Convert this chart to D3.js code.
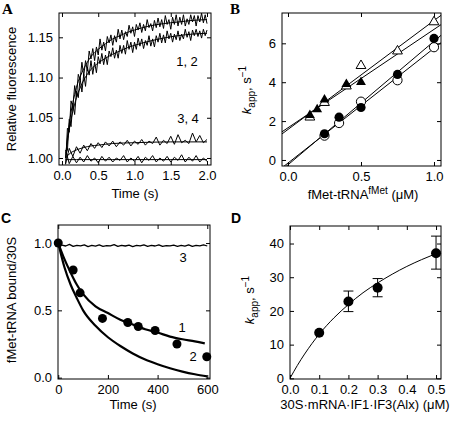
<!DOCTYPE html>
<html><head><meta charset="utf-8">
<script src="https://cdn.jsdelivr.net/npm/d3@7"></script>
<style>
body{margin:0;background:#fff;}
svg{display:block;font-family:"Liberation Sans",Arial,Helvetica,sans-serif;}
text{fill:#000;}
</style></head>
<body>
<svg id="chart" width="454" height="422"></svg>
<script>
// ---------- Panel A data ----------
const timesA = [0.05,0.075,0.1,0.125,0.15,0.175,0.2,0.225,0.25,0.275,0.3,0.325,0.35,0.375,0.4,0.425,0.45,0.475,0.5,0.525,0.55,0.575,0.6,0.625,0.65,0.675,0.7,0.725,0.75,0.775,0.8,0.825,0.85,0.875,0.9,0.925,0.95,0.975,1.0,1.025,1.05,1.075,1.1,1.125,1.15,1.175,1.2,1.225,1.25,1.275,1.3,1.325,1.35,1.375,1.4,1.425,1.45,1.475,1.5,1.525,1.55,1.575,1.6,1.625,1.65,1.675,1.7,1.725,1.75,1.775,1.8,1.825,1.85,1.875,1.9,1.925,1.95,1.975,2.0];
const traceA1 = [0.992,1.037,1.032,1.071,1.063,1.090,1.076,1.104,1.097,1.119,1.102,1.121,1.108,1.133,1.123,1.136,1.121,1.138,1.128,1.148,1.134,1.144,1.133,1.151,1.143,1.153,1.140,1.152,1.144,1.160,1.148,1.159,1.147,1.157,1.151,1.165,1.155,1.163,1.151,1.166,1.159,1.168,1.156,1.166,1.158,1.172,1.162,1.167,1.158,1.171,1.162,1.174,1.163,1.172,1.161,1.177,1.166,1.172,1.160,1.175,1.166,1.178,1.164,1.175,1.166,1.178,1.164,1.173,1.166,1.178,1.169,1.177,1.164,1.177,1.169,1.180,1.168,1.178,1.167];
const traceA2 = [1.006,1.009,1.048,1.039,1.068,1.054,1.083,1.075,1.099,1.082,1.104,1.089,1.113,1.103,1.121,1.104,1.119,1.106,1.126,1.117,1.130,1.116,1.128,1.116,1.133,1.126,1.137,1.124,1.134,1.124,1.140,1.130,1.140,1.129,1.146,1.135,1.144,1.131,1.144,1.135,1.149,1.139,1.148,1.136,1.146,1.140,1.152,1.139,1.148,1.138,1.152,1.144,1.155,1.143,1.153,1.143,1.158,1.148,1.155,1.144,1.154,1.147,1.158,1.146,1.154,1.148,1.160,1.150,1.157,1.146,1.159,1.152,1.160,1.151,1.158,1.149,1.160,1.152,1.159];
const timesA34 = [0.05,0.1,0.15,0.2,0.25,0.3,0.35,0.4,0.45,0.5,0.55,0.6,0.65,0.7,0.75,0.8,0.85,0.9,0.95,1.0,1.05,1.1,1.15,1.2,1.25,1.3,1.35,1.4,1.45,1.5,1.55,1.6,1.65,1.7,1.75,1.8,1.85,1.9,1.95,2.0];
const traceA3 = [0.993,1.012,1.002,1.014,1.006,1.016,1.009,1.018,1.012,1.019,1.013,1.020,1.015,1.021,1.014,1.020,1.016,1.022,1.015,1.021,1.017,1.023,1.016,1.021,1.018,1.026,1.016,1.022,1.018,1.027,1.017,1.029,1.019,1.022,1.018,1.031,1.020,1.028,1.019,1.023];
const traceA4 = [1.010,0.993,1.002,0.994,1.001,0.995,1.003,0.996,1.000,0.994,1.002,0.996,1.001,0.995,1.000,0.997,1.003,0.995,1.000,0.996,1.002,0.994,1.001,0.997,1.003,0.995,1.000,0.996,1.002,0.995,1.001,0.997,1.004,0.995,1.001,0.996,1.003,0.995,1.000,0.996];
const fitTimesA = [0.05,0.075,0.1,0.125,0.15,0.175,0.2,0.25,0.3,0.35,0.4,0.5,0.6,0.7,0.8,0.9,1.0,1.2,1.4,1.6,1.8,2.0];
const fitA1 = [1.000,1.025,1.042,1.057,1.069,1.079,1.088,1.101,1.111,1.119,1.126,1.135,1.142,1.148,1.152,1.156,1.159,1.164,1.167,1.169,1.171,1.172];
const fitA2 = [1.000,1.020,1.035,1.048,1.058,1.067,1.075,1.087,1.097,1.104,1.110,1.118,1.124,1.129,1.133,1.137,1.140,1.145,1.149,1.152,1.154,1.155];
const fitTimesA34 = [0.05,0.1,0.2,0.3,0.4,0.5,0.7,1.0,1.5,2.0];
const fitA3 = [1.000,1.005,1.010,1.013,1.015,1.016,1.018,1.019,1.020,1.020];
const fitA4 = [0.998,0.998,0.998,0.998,0.998,0.998,0.998,0.998,0.998,0.998];
const ticksAx = [0,0.5,1,1.5,2];
const ticksAy = [1.00,1.05,1.10,1.15];

// ---------- Panel B data ----------
const openTriX = [0.15,0.25,0.4,0.5,0.75,1.0];
const openTriY = [2.2,2.95,3.8,4.85,5.6,7.1];
const fillTriX = [0.15,0.2,0.25,0.4,0.5];
const fillTriY = [2.3,2.6,3.1,3.9,4.0];
const fillCircX = [0.25,0.35,0.5,0.75,1.0];
const fillCircY = [1.35,2.2,2.7,4.4,6.25];
const openCircX = [0.25,0.35,0.5,0.75,1.0];
const openCircY = [1.25,1.9,3.0,4.1,5.8];
const fitBx = [-0.041,1.048];
const fitBopenTri = [1.34,7.44];
const fitBfillTri = [1.45,6.96];
const fitBfillCirc = [-0.51,6.41];
const fitBopenCirc = [-0.40,6.03];
const ticksBx = [0,0.5,1];
const ticksBy = [0,2,4,6];

// ---------- Panel C data ----------
const timesC = [0,25,50,75,100,150,200,250,300,350,400,450,500,550,590];
const traceC1 = [1.0,0.88,0.78,0.69,0.62,0.53,0.48,0.43,0.395,0.36,0.335,0.305,0.285,0.27,0.255];
const timesC2 = [0,25,50,75,100,150,200,250,300,350,400,450,500,550,600];
const traceC2 = [1.0,0.82,0.69,0.59,0.50,0.385,0.30,0.235,0.18,0.135,0.10,0.07,0.045,0.025,0.01];
const timesC3 = [0,15,30,45,60,75,90,105,120,135,150,165,180,195,210,225,240,255,270,285,300,315,330,345,360,375,390,405,420,435,450,465,480,495,510,525,540,555,570,585,600];
const traceC3 = [1.000,0.985,0.978,0.990,0.975,0.983,0.979,0.987,0.974,0.982,0.977,0.986,0.976,0.981,0.979,0.988,0.975,0.983,0.978,0.985,0.974,0.982,0.979,0.986,0.976,0.983,0.978,0.987,0.975,0.981,0.979,0.985,0.976,0.983,0.977,0.986,0.975,0.982,0.979,0.987,0.978];
const pointsCx = [0,60,88,178,280,322,390,478,598];
const pointsCy = [1.0,0.80,0.63,0.44,0.41,0.38,0.35,0.25,0.155];
const ticksCx = [0,200,400,600];
const ticksCy = [0,0.5,1.0];

// ---------- Panel D data ----------
const concD = [0.1,0.2,0.3,0.5];
const kappD = [13.5,22.8,26.9,37.1];
const errLoD = [13.5,19.8,24.2,32.4];
const errHiD = [13.5,25.9,29.6,42.2];
const fitDx = [0,0.025,0.05,0.1,0.15,0.2,0.25,0.3,0.35,0.4,0.45,0.5,0.515];
const fitDy = [0,3.8,7.2,13.1,17.9,21.9,25.4,28.3,30.9,33.2,35.2,37.0,37.5];
const ticksDx = [0,0.1,0.2,0.3,0.4,0.5];
const ticksDy = [0,10,20,30,40];

// ---------- drawing ----------
const svg = d3.select("#chart");
svg.append("rect").attr("width",454).attr("height",422).attr("fill","#fff");
const FS = 13;

function makePanel(p){
  const x = d3.scaleLinear().domain(p.xd).range([p.x0,p.x1]);
  const y = d3.scaleLinear().domain(p.yd).range([p.y1,p.y0]);
  const g = svg.append("g");
  const tk = 4;
  const ax = (axisFn, scale, ticks, fmt, transform, labels) => {
    const a = axisFn(scale).tickValues(ticks).tickSizeInner(-tk).tickSizeOuter(0).tickPadding(6)
      .tickFormat(labels ? fmt : () => "");
    const gg = g.append("g").attr("transform", transform).call(a);
    gg.select(".domain").remove();
    gg.selectAll("line").attr("stroke","#000").attr("stroke-width",1);
    gg.selectAll("text").attr("font-size",FS).attr("fill","#000").style("font-family","Liberation Sans, Arial, sans-serif");
    return gg;
  };
  ax(d3.axisBottom, x, p.xt, p.xf, `translate(0,${p.y1})`, true);
  ax(d3.axisTop, x, p.xt, p.xf, `translate(0,${p.y0})`, false);
  ax(d3.axisLeft, y, p.yt, p.yf, `translate(${p.x0},0)`, true);
  ax(d3.axisRight, y, p.yt, p.yf, `translate(${p.x1},0)`, false);
  g.append("rect").attr("x",p.x0).attr("y",p.y0).attr("width",p.x1-p.x0).attr("height",p.y1-p.y0)
    .attr("fill","none").attr("stroke","#000").attr("stroke-width",1);
  const clipId = "clip"+p.id;
  svg.append("clipPath").attr("id",clipId).append("rect")
    .attr("x",p.x0).attr("y",p.y0).attr("width",p.x1-p.x0).attr("height",p.y1-p.y0);
  const plot = svg.append("g").attr("clip-path",`url(#${clipId})`);
  return {x,y,g,plot};
}

function line(plot, xs, ys, x, y, w, curve){
  const pts = xs.map((v,i)=>[v,ys[i]]);
  plot.append("path").datum(pts)
    .attr("d", d3.line().x(d=>x(d[0])).y(d=>y(d[1])).curve(curve||d3.curveLinear))
    .attr("fill","none").attr("stroke","#000").attr("stroke-width",w).attr("stroke-linejoin","round");
}

function label(x,y,txt){
  return svg.append("text").attr("x",x).attr("y",y).attr("text-anchor","middle")
    .attr("font-size",FS).attr("fill","#000").text(txt);
}

function panelLetter(txt,x,y,serif){
  svg.append("text").attr("x",x).attr("y",y).text(txt).attr("fill","#000")
    .attr("font-weight","bold").attr("font-size",serif?15:14)
    .style("font-family", serif ? "Liberation Serif, Times New Roman, serif" : "Liberation Sans, Arial, sans-serif");
}

function kappLabel(cx,cy){
  const t = svg.append("text").attr("transform",`translate(${cx},${cy}) rotate(-90)`)
    .attr("text-anchor","middle").attr("font-size",FS).attr("fill","#000");
  t.append("tspan").text("k").attr("font-style","italic");
  t.append("tspan").text("app").attr("font-size",10).attr("dy",4);
  t.append("tspan").text(", s").attr("dy",-4);
  t.append("tspan").text("\u22121").attr("font-size",10).attr("dy",-5);
}

// Panel A
{
  const P = makePanel({id:"A",x0:59,x1:211,y0:13,y1:165,xd:[-0.041,2.055],yd:[0.9913,1.1802],
    xt:ticksAx,yt:ticksAy,xf:d3.format(".1f"),yf:d3.format(".2f")});
  line(P.plot,timesA,traceA1,P.x,P.y,1);
  line(P.plot,timesA,traceA2,P.x,P.y,1);
  line(P.plot,timesA34,traceA3,P.x,P.y,1);
  line(P.plot,timesA34,traceA4,P.x,P.y,1);
  line(P.plot,fitTimesA,fitA1,P.x,P.y,1,d3.curveMonotoneX);
  line(P.plot,fitTimesA,fitA2,P.x,P.y,1,d3.curveMonotoneX);
  line(P.plot,fitTimesA34,fitA3,P.x,P.y,1,d3.curveMonotoneX);
  line(P.plot,fitTimesA34,fitA4,P.x,P.y,1,d3.curveMonotoneX);
  label(187,66,"1, 2");
  label(188,123,"3, 4");
  label(135,198,"Time (s)");
  svg.append("text").attr("transform","translate(16,89) rotate(-90)").attr("text-anchor","middle")
    .attr("font-size",FS).attr("fill","#000").text("Relative fluorescence");
  panelLetter("A",2,14,true);
}

// Panel B
{
  const P = makePanel({id:"B",x0:282,x1:441,y0:13,y1:166,xd:[-0.041,1.048],yd:[-0.31,7.56],
    xt:ticksBx,yt:ticksBy,xf:d3.format(".1f"),yf:d3.format("d")});
  line(P.plot,fitBx,fitBopenTri,P.x,P.y,1);
  line(P.plot,fitBx,fitBfillTri,P.x,P.y,1);
  line(P.plot,fitBx,fitBfillCirc,P.x,P.y,1);
  line(P.plot,fitBx,fitBopenCirc,P.x,P.y,1);
  const tri = d3.symbol().type(d3.symbolTriangle).size(42);
  const pg = svg.append("g");
  openCircX.forEach((v,i)=>pg.append("circle").attr("cx",P.x(v)).attr("cy",P.y(openCircY[i])).attr("r",4.6).attr("fill","#fff").attr("stroke","#000").attr("stroke-width",1));
  fillCircX.forEach((v,i)=>pg.append("circle").attr("cx",P.x(v)).attr("cy",P.y(fillCircY[i])).attr("r",4.6).attr("fill","#000"));
  openTriX.forEach((v,i)=>pg.append("path").attr("d",tri).attr("transform",`translate(${P.x(v)},${P.y(openTriY[i])})`).attr("fill","#fff").attr("stroke","#000").attr("stroke-width",1));
  fillTriX.forEach((v,i)=>pg.append("path").attr("d",tri).attr("transform",`translate(${P.x(v)},${P.y(fillTriY[i])})`).attr("fill","#000"));
  const xl = svg.append("text").attr("x",363).attr("y",199).attr("text-anchor","middle").attr("font-size",FS).attr("fill","#000");
  xl.append("tspan").text("fMet-tRNA");
  xl.append("tspan").text("fMet").attr("font-size",10).attr("dy",-5);
  xl.append("tspan").text(" (\u03bcM)").attr("dy",5);
  kappLabel(251,90);
  panelLetter("B",230,14,true);
}

// Panel C
{
  const P = makePanel({id:"C",x0:58,x1:210,y0:225,y1:379,xd:[-1,611],yd:[-0.01,1.134],
    xt:ticksCx,yt:ticksCy,xf:d3.format("d"),yf:d3.format(".1f")});
  line(P.plot,timesC3,traceC3,P.x,P.y,1.3);
  line(P.plot,timesC,traceC1,P.x,P.y,2.2,d3.curveMonotoneX);
  line(P.plot,timesC2,traceC2,P.x,P.y,2.2,d3.curveMonotoneX);
  pointsCx.forEach((v,i)=>svg.append("circle").attr("cx",P.x(v)).attr("cy",P.y(pointsCy[i])).attr("r",4.5).attr("fill","#000"));
  label(183,262,"3");
  label(182,332,"1");
  label(193,361,"2");
  label(133,409,"Time (s)");
  svg.append("text").attr("transform","translate(16,300) rotate(-90)").attr("text-anchor","middle")
    .attr("font-size",FS).attr("fill","#000").text("fMet-tRNA bound/30S");
  panelLetter("C",1,223,false);
}

// Panel D
{
  const P = makePanel({id:"D",x0:290,x1:441,y0:226,y1:379,xd:[0,0.517],yd:[-0.2,45.2],
    xt:ticksDx,yt:ticksDy,xf:d3.format(".1f"),yf:d3.format("d")});
  line(P.plot,fitDx,fitDy,P.x,P.y,1,d3.curveMonotoneX);
  const eg = svg.append("g").attr("stroke","#000").attr("stroke-width",1);
  concD.forEach((v,i)=>{
    if (errHiD[i] > errLoD[i]) {
      eg.append("line").attr("x1",P.x(v)).attr("x2",P.x(v)).attr("y1",P.y(errLoD[i])).attr("y2",P.y(errHiD[i]));
      [errLoD[i],errHiD[i]].forEach(e=>eg.append("line").attr("x1",P.x(v)-5).attr("x2",P.x(v)+5).attr("y1",P.y(e)).attr("y2",P.y(e)));
    }
    svg.append("circle").attr("cx",P.x(v)).attr("cy",P.y(kappD[i])).attr("r",5).attr("fill","#000");
  });
  label(365,409,"30S\u00b7mRNA\u00b7IF1\u00b7IF3(Alx) (\u03bcM)");
  kappLabel(254,300);
  panelLetter("D",231,223,false);
}
</script>
</body></html>
